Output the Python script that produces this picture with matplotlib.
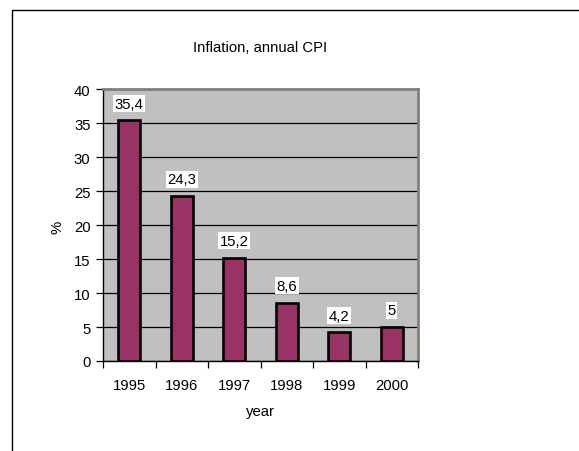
import matplotlib
matplotlib.use("Agg")
import matplotlib.pyplot as plt
from matplotlib.patches import Rectangle

plt.rcParams['font.family'] = ['Liberation Sans', 'DejaVu Sans']

years = ['1995', '1996', '1997', '1998', '1999', '2000']
inflation = [35.4, 24.3, 15.2, 8.6, 4.2, 5.0]
value_labels = ['35,4', '24,3', '15,2', '8,6', '4,2', '5']
y_ticks = [0, 5, 10, 15, 20, 25, 30, 35, 40]

FS = 10.7
W, H = 579, 452
fig = plt.figure(figsize=(W / 100, H / 100), dpi=100)

# outer chart frame (runs off the right and bottom edges)
fig.patches.append(Rectangle((12 / W, -0.1), 1.2, (H - 10.5) / H + 0.1,
                             transform=fig.transFigure, fill=False,
                             edgecolor='black', linewidth=1.0, zorder=0))

left, right, top, bottom = 103, 418, 90, 362
ax = fig.add_axes([left / W, (H - bottom) / H, (right - left) / W, (bottom - top) / H])
ax.set_facecolor('#C0C0C0')

x = list(range(len(years)))
ax.bar(x, inflation, width=0.41, color='#993366', edgecolor='black',
       linewidth=1.9, zorder=3)

for xi, v, lab in zip(x, inflation, value_labels):
    ax.annotate(lab, (xi, v), xytext=(0, 12), textcoords='offset points',
                ha='center', va='center', fontsize=FS, zorder=4,
                bbox=dict(boxstyle='square,pad=0.1', facecolor='white', edgecolor='none'))

ax.set_xlim(-0.5, len(years) - 0.5)
ax.set_ylim(0, 40)
ax.set_yticks(y_ticks)
ax.yaxis.grid(True, color='black', linewidth=0.9, zorder=1)
ax.set_axisbelow(True)

ax.set_xticks([i + 0.5 for i in range(-1, len(years))], minor=False)
ax.set_xticklabels([])
ax.set_xticks(x, minor=True)
ax.set_xticklabels(years, minor=True)
ax.tick_params(axis='x', which='major', direction='out', length=5, width=0.9)
ax.tick_params(axis='x', which='minor', length=0, pad=12.5, labelsize=FS)
ax.tick_params(axis='y', direction='out', length=5, width=0.9, pad=4, labelsize=FS)

for s in ['left', 'bottom']:
    ax.spines[s].set_color('black')
    ax.spines[s].set_linewidth(1.0)
for s in ['top', 'right']:
    ax.spines[s].set_color('#808080')
    ax.spines[s].set_linewidth(2.0)

fig.text(260 / W, 1 - 48 / H, 'Inflation, annual CPI', ha='center', va='center', fontsize=FS)
fig.text(58 / W, 1 - 227 / H, '%', ha='center', va='center', rotation=90, fontsize=FS)
fig.text(260 / W, 1 - 412 / H, 'year', ha='center', va='center', fontsize=FS)

fig.savefig('out.png', dpi=100)
